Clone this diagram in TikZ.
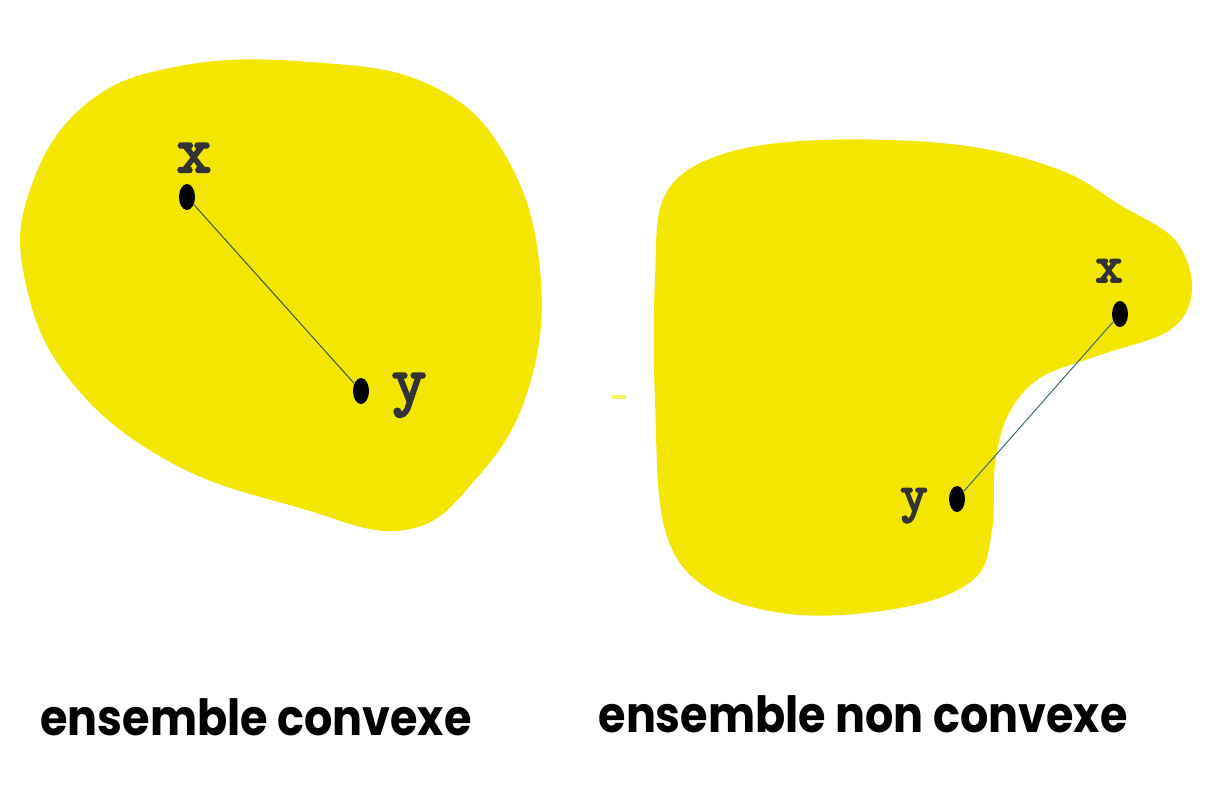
\documentclass[tikz,border=0pt]{standalone}
\usepackage{fontspec}
\setmainfont{Poppins}
\newfontfamily\labf{lmmono10-regular.otf}[FakeBold=3.5]
\definecolor{blob}{RGB}{243,230,0}
\definecolor{segL}{RGB}{60,90,50}
\definecolor{segR}{RGB}{60,110,120}
\usetikzlibrary{shapes.geometric}
\tikzset{
  setfill/.style={fill=blob, draw=none},
  dotpt/.style={ellipse, fill=black, inner sep=0pt, minimum width=16pt, minimum height=26pt},
  ptlabel/.style={text=black!80, inner sep=0pt, anchor=base},
  caption/.style={inner sep=0pt, anchor=base},
  seg/.style={line width=1pt}
}
\newcommand{\lblbig}[1]{{\labf\fontsize{66}{66}\selectfont #1}}
\newcommand{\lblsmall}[1]{{\labf\fontsize{52}{52}\selectfont #1}}
\newcommand{\capt}[1]{\scalebox{1}[1.12]{\bfseries\fontsize{44.5}{45}\selectfont #1}}
\begin{document}
\begin{tikzpicture}[x=1pt,y=-1pt]
\useasboundingbox (0,0) rectangle (1206,809);
\fill[white] (0,0) rectangle (1206,809);
% convex set
\fill[setfill] plot[smooth cycle, tension=0.7] coordinates {
 (30,190) (85,105) (180,66) (310,62) (430,85) (505,155) (540,270)
 (528,390) (475,480) (405,530) (300,508) (170,462) (70,380) (25,280)};
% non convex set
\fill[setfill] plot[smooth cycle, tension=0.6] coordinates {
 (665,195) (720,155) (820,140) (960,145) (1060,170) (1120,205) (1175,240)
 (1192,290) (1170,330) (1100,355) (1040,378) (1008,415) (995,465)
 (992,530) (975,578) (910,606) (800,615) (710,590) (665,530) (655,400) (655,280)};
\fill[blob!60] (612,395) rectangle (626,399);
% points left
\node[dotpt] (x1) at (187,197) {};
\node[dotpt] (y1) at (361,391) {};
\draw[seg, segL] (x1) -- (y1);
\node[ptlabel] (lx1) at (194,172) {\lblbig{x}};
\node[ptlabel] (ly1) at (409,402) {\lblbig{y}};
% points right
\node[dotpt] (x2) at (1120,314) {};
\node[dotpt] (y2) at (957,499) {};
\draw[seg, segR] (x2) -- (y2);
\node[ptlabel] (lx2) at (1109,282) {\lblsmall{x}};
\node[ptlabel] (ly2) at (914,511) {\lblsmall{y}};
% captions
\node[caption] (c1) at (256,735) {\capt{ensemble convexe}};
\node[caption] (c2) at (863,732) {\capt{ensemble non convexe}};
\end{tikzpicture}
\end{document}
